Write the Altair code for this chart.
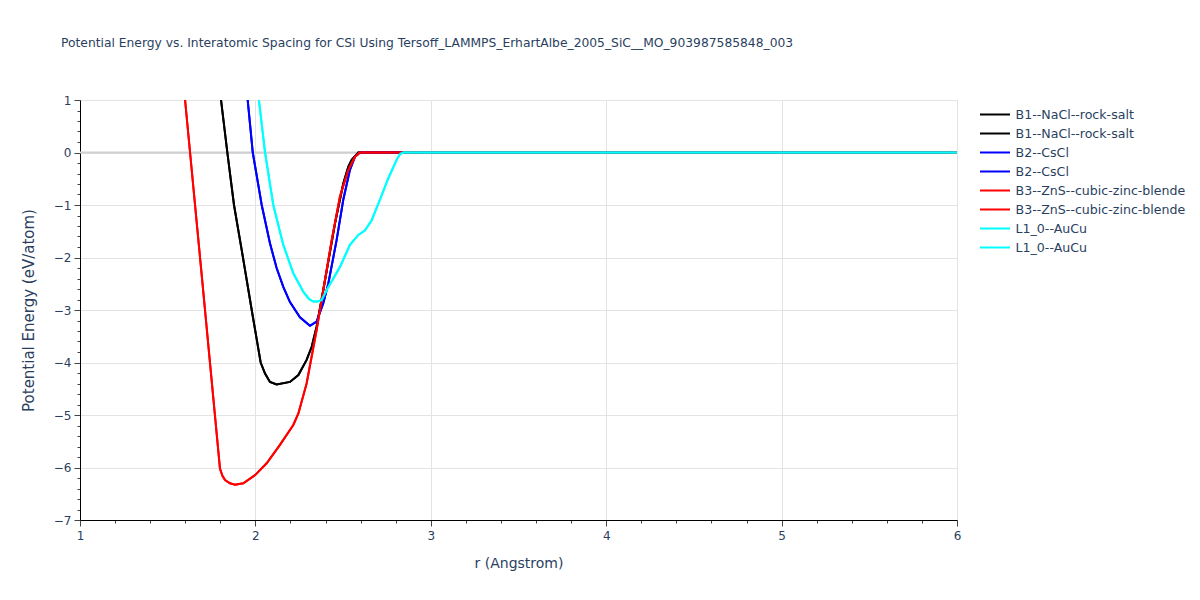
import altair as alt
import pandas as pd

TITLE = "Potential Energy vs. Interatomic Spacing for CSi Using Tersoff_LAMMPS_ErhartAlbe_2005_SiC__MO_903987585848_003"

names = ["B1--NaCl--rock-salt", "B2--CsCl", "B3--ZnS--cubic-zinc-blende", "L1_0--AuCu"]
colors = ["black", "blue", "red", "cyan"]

b1_r = [1.804, 1.84, 1.878, 1.922, 1.979, 2.030, 2.055, 2.083, 2.121, 2.197, 2.245, 2.292, 2.321, 2.349, 2.387, 2.454, 2.501, 2.53, 2.549, 2.587, 6.0]
b1_e = [1.0, 0.0, -1.0, -1.86, -3.0, -4.0, -4.21, -4.37, -4.42, -4.37, -4.24, -3.95, -3.70, -3.32, -2.62, -1.35, -0.59, -0.27, -0.14, 0.0, 0.0]

b2_r = [1.956, 1.985, 2.036, 2.083, 2.121, 2.159, 2.197, 2.254, 2.311, 2.349, 2.387, 2.416, 2.463, 2.501, 2.539, 2.568, 2.596, 6.0]
b2_e = [1.0, 0.0, -1.0, -1.73, -2.20, -2.56, -2.85, -3.14, -3.30, -3.22, -2.87, -2.49, -1.67, -0.90, -0.33, -0.08, 0.0, 0.0]

b3_r = [1.599, 1.70, 1.798, 1.812, 1.827, 1.855, 1.884, 1.931, 2.0, 2.064, 2.14, 2.216, 2.245, 2.292, 2.349, 2.387, 2.435, 2.482, 2.53, 2.568, 2.596, 6.0]
b3_e = [1.0, -2.55, -6.02, -6.16, -6.24, -6.30, -6.33, -6.30, -6.14, -5.92, -5.57, -5.19, -4.97, -4.40, -3.38, -2.62, -1.67, -0.84, -0.33, -0.08, 0.0, 0.0]

l10_r = [2.02, 2.055, 2.102, 2.159, 2.216, 2.273, 2.305, 2.33, 2.355, 2.378, 2.416, 2.482, 2.539, 2.587, 2.625, 2.663, 2.71, 2.758, 2.805, 2.825, 2.843, 6.0]
l10_e = [1.0, 0.0, -1.0, -1.76, -2.30, -2.65, -2.79, -2.84, -2.84, -2.81, -2.56, -2.18, -1.76, -1.57, -1.48, -1.29, -0.90, -0.49, -0.14, -0.03, 0.0, 0.0]

x_ticks = [1.0, 1.2, 1.4, 1.6, 1.8, 2.0, 2.2, 2.4, 2.6, 2.8, 3.0, 3.2, 3.4, 3.6, 3.8, 4.0,
           4.2, 4.4, 4.6, 4.8, 5.0, 5.2, 5.4, 5.6, 5.8, 6.0]
y_ticks = [-7.0, -6.8, -6.6, -6.4, -6.2, -6.0, -5.8, -5.6, -5.4, -5.2, -5.0, -4.8, -4.6, -4.4, -4.2,
           -4.0, -3.8, -3.6, -3.4, -3.2, -3.0, -2.8, -2.6, -2.4, -2.2, -2.0, -1.8, -1.6, -1.4, -1.2,
           -1.0, -0.8, -0.6, -0.4, -0.2, 0.0, 0.2, 0.4, 0.6, 0.8, 1.0]
zero_line = [0.0]

curves = [(b1_r, b1_e), (b2_r, b2_e), (b3_r, b3_e), (l10_r, l10_e)]

rows = []
domain = []
rng = []
for name, col, (r, e) in zip(names, colors, curves):
    for k in ("1", "2"):
        key = name + "|" + k
        domain.append(key)
        rng.append(col)
        for ri, ei in zip(r, e):
            rows.append({"series": key, "r": ri, "e": ei})
df = pd.DataFrame(rows)

INT_TEST = "abs(datum.value - round(datum.value)) < 0.01"
TXT = "#2a3f5f"
FONT = "DejaVu Sans"

x_axis = alt.Axis(
    values=x_ticks,
    labelExpr=f"{INT_TEST} ? format(datum.value, 'd') : ''",
    tickSize={"condition": {"test": INT_TEST, "value": 6}, "value": 3},
    gridOpacity={"condition": {"test": INT_TEST, "value": 1}, "value": 0},
    gridColor="#e3e3e3",
    domainColor="black",
    tickColor="#444",
    labelColor=TXT,
    labelFont=FONT,
    labelFontSize=12,
    labelPadding=4,
    title="r (Angstrom)",
    titleColor=TXT,
    titleFont=FONT,
    titleFontSize=14,
    titleFontWeight="normal",
    titlePadding=15,
    labelFlush=False,
)
y_axis = alt.Axis(
    values=y_ticks,
    labelExpr=f"{INT_TEST} ? format(datum.value, 'd') : ''",
    tickSize={"condition": {"test": INT_TEST, "value": 6}, "value": 3},
    gridOpacity={"condition": {"test": INT_TEST, "value": 1}, "value": 0},
    gridColor="#e3e3e3",
    domainColor="black",
    tickColor="#444",
    labelColor=TXT,
    labelFont=FONT,
    labelFontSize=12,
    labelPadding=3,
    title="Potential Energy (eV/atom)",
    titleColor=TXT,
    titleFont=FONT,
    titleFontSize=15,
    titleFontWeight="normal",
    titlePadding=17,
    labelFlush=False,
)

xs = alt.Scale(domain=[1, 6], nice=False, zero=False)
ys = alt.Scale(domain=[-7, 1], nice=False, zero=False)

zero = alt.Chart(pd.DataFrame({"e": zero_line})).mark_rule(color="#cfcfcf", strokeWidth=2).encode(
    y=alt.Y("e:Q", scale=ys, axis=y_axis)
)

lines = alt.Chart(df).mark_line(strokeWidth=2, interpolate="linear", clip=True).encode(
    x=alt.X("r:Q", scale=xs, axis=x_axis),
    y=alt.Y("e:Q", scale=ys, axis=y_axis),
    color=alt.Color(
        "series:N",
        scale=alt.Scale(domain=domain, range=rng),
        sort=domain,
        legend=alt.Legend(
            title=None,
            orient="none",
            legendX=906.5,
            legendY=6,
            symbolType="M-2,0H2",
            symbolSize=225,
            symbolStrokeWidth=2,
            labelExpr="split(datum.label, '|')[0]",
            labelFont=FONT,
            labelFontSize=12.6,
            labelColor=TXT,
            labelOffset=12,
            rowPadding=3,
            labelLimit=300,
        ),
    ),
)

chart = alt.layer(zero, lines).properties(
    width=877,
    height=420,
    title=alt.TitleParams(
        TITLE,
        anchor="start",
        frame="group",
        dx=-19,
        offset=45,
        font=FONT,
        fontSize=12.3,
        fontWeight="normal",
        color=TXT,
    ),
    autosize=alt.AutoSizeParams(type="none"),
    padding={"left": 72, "top": 92, "right": 234, "bottom": 70},
).configure_view(stroke=None).configure(background="white")

chart.save("out.html", embed_options={"renderer": "svg", "actions": False})
